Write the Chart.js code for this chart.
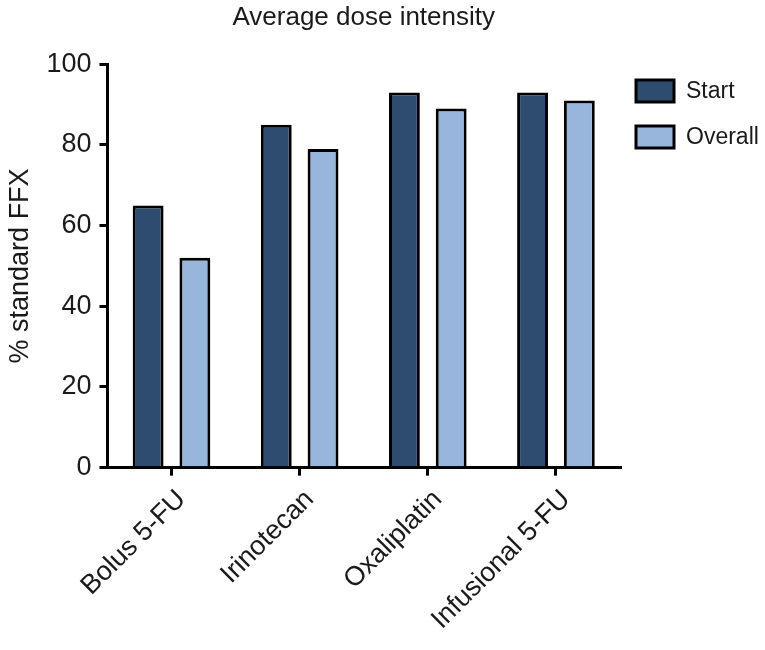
<!DOCTYPE html>
<html>
<head>
<meta charset="utf-8">
<title>Average dose intensity</title>
<script src="https://cdn.jsdelivr.net/npm/chart.js@4.4.1/dist/chart.umd.min.js"></script>
<style>
    html, body { margin: 0; padding: 0; background: #fff; }
    #wrap { width: 765px; height: 650px; }
</style>
</head>
<body>
<div id="wrap"><canvas id="doseChart"></canvas></div>
<script>
// values (% of standard FFX dose)
const drugs = ['Bolus 5-FU', 'Irinotecan', 'Oxaliplatin', 'Infusional 5-FU'];
const startValues = [65, 85, 93, 93];
const overallValues = [52, 79, 89, 91];
const yTicks = [0, 20, 40, 60, 80, 100];

const FONT = "'Liberation Sans', Arial, Helvetica, sans-serif";
const TEXT = '#1a1a1a';

// legend drawn by hand so it sits top right, outside the plot
const sideLegend = {
    id: 'sideLegend',
    afterDraw(chart) {
        const ctx = chart.ctx;
        const x = chart.chartArea.right + 16;
        let y = 80;
        ctx.save();
        chart.data.datasets.forEach(ds => {
            ctx.fillStyle = ds.backgroundColor;
            ctx.fillRect(x, y, 38, 22);
            ctx.lineWidth = 3;
            ctx.strokeStyle = '#000';
            ctx.strokeRect(x, y, 38, 22);
            ctx.fillStyle = TEXT;
            ctx.font = '23px ' + FONT;
            ctx.textBaseline = 'middle';
            ctx.fillText(ds.label, x + 50, y + 12);
            y += 46;
        });
        ctx.restore();
    }
};

const ctx = document.getElementById('doseChart').getContext('2d');
new Chart(ctx, {
    type: 'bar',
    data: {
        labels: drugs,
        datasets: [{
            label: 'Start',
            data: startValues,
            backgroundColor: '#2e4b70',
            borderColor: '#000',
            borderWidth: 3,
            categoryPercentage: 0.73,
            barPercentage: 0.66
        }, {
            label: 'Overall',
            data: overallValues,
            backgroundColor: '#98b6dc',
            borderColor: '#000',
            borderWidth: 3,
            categoryPercentage: 0.73,
            barPercentage: 0.66
        }]
    },
    options: {
        responsive: true,
        maintainAspectRatio: false,
        animation: false,
        layout: {
            padding: { left: 4, right: 145, top: 0, bottom: 6 }
        },
        plugins: {
            legend: { display: false },
            tooltip: { enabled: false },
            title: {
                display: true,
                fullSize: false,
                text: 'Average dose intensity',
                color: TEXT,
                font: { family: FONT, size: 26, weight: 'normal' },
                padding: { top: 2, bottom: 31 }
            }
        },
        scales: {
            x: {
                z: 1,
                grid: {
                    offset: false,
                    drawOnChartArea: false,
                    drawTicks: true,
                    tickLength: 8,
                    color: '#000',
                    lineWidth: 3
                },
                border: { display: true, color: '#000', width: 3 },
                ticks: {
                    color: TEXT,
                    font: { family: FONT, size: 27 },
                    minRotation: 45,
                    maxRotation: 45,
                    labelOffset: 10,
                    padding: 8
                }
            },
            y: {
                z: 1,
                min: 0,
                max: 100,
                afterBuildTicks: axis => {
                    axis.ticks = yTicks.map(v => ({ value: v }));
                },
                grid: {
                    drawOnChartArea: false,
                    drawTicks: true,
                    tickLength: 8,
                    color: '#000',
                    lineWidth: 3
                },
                border: { display: true, color: '#000', width: 3 },
                ticks: {
                    color: TEXT,
                    font: { family: FONT, size: 27 },
                    padding: 8
                },
                title: {
                    display: true,
                    text: '% standard FFX',
                    color: TEXT,
                    font: { family: FONT, size: 27 },
                    padding: { top: 0, bottom: 2 }
                }
            }
        }
    },
    plugins: [sideLegend]
});
</script>
</body>
</html>
